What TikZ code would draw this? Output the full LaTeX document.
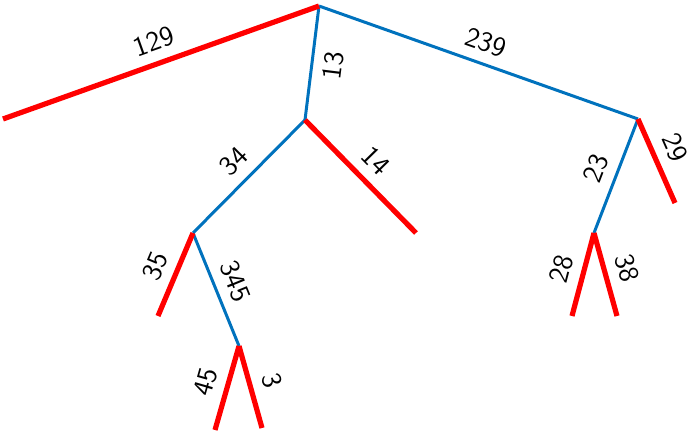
\documentclass[tikz,border=0pt]{standalone}
\usepackage{tikz}
\definecolor{mblue}{RGB}{0,114,189}

\begin{document}
\begin{tikzpicture}[x=0.5pt,y=-0.5pt]

\tikzstyle{inner}=[line width=1.5pt,mblue]
\tikzstyle{leaf}=[line width=2.6pt,red]
\tikzstyle{lab}=[midway,sloped,inner sep=5pt,black,font=\sffamily\fontsize{14}{16}\selectfont]

\useasboundingbox (0,0) rectangle (698,437);

% tree vertices
\coordinate (root) at (319,6);
\coordinate (n13) at (305,120);
\coordinate (n34) at (193,233);
\coordinate (n345) at (239,346);
\coordinate (n239) at (638,119);
\coordinate (n23) at (594,233);

% leaf ends
\coordinate (l129) at (3,119);
\coordinate (l14) at (416,233);
\coordinate (l35) at (158,316);
\coordinate (l45) at (215,430);
\coordinate (l3) at (262,428);
\coordinate (l29) at (675,203);
\coordinate (l28) at (572,316);
\coordinate (l38) at (617,316);

% internal branches
\draw [inner] (root) -- node[lab,below] {13} (n13);
\draw [inner] (root) -- node[lab,above] {239} (n239);
\draw [inner] (n13) -- node[lab,above] {34} (n34);
\draw [inner] (n34) -- node[lab,above] {345} (n345);
\draw [inner] (n239) -- node[lab,above] {23} (n23);

% leaf branches
\draw [leaf] (root) -- node[lab,above] {129} (l129);
\draw [leaf] (n13) -- node[lab,above] {14} (l14);
\draw [leaf] (n34) -- node[lab,above] {35} (l35);
\draw [leaf] (n345) -- node[lab,above] {45} (l45);
\draw [leaf] (n345) -- node[lab,above] {3} (l3);
\draw [leaf] (n239) -- node[lab,above,pos=0.45] {29} (l29);
\draw [leaf] (n23) -- node[lab,above] {28} (l28);
\draw [leaf] (n23) -- node[lab,above] {38} (l38);

\end{tikzpicture}
\end{document}
